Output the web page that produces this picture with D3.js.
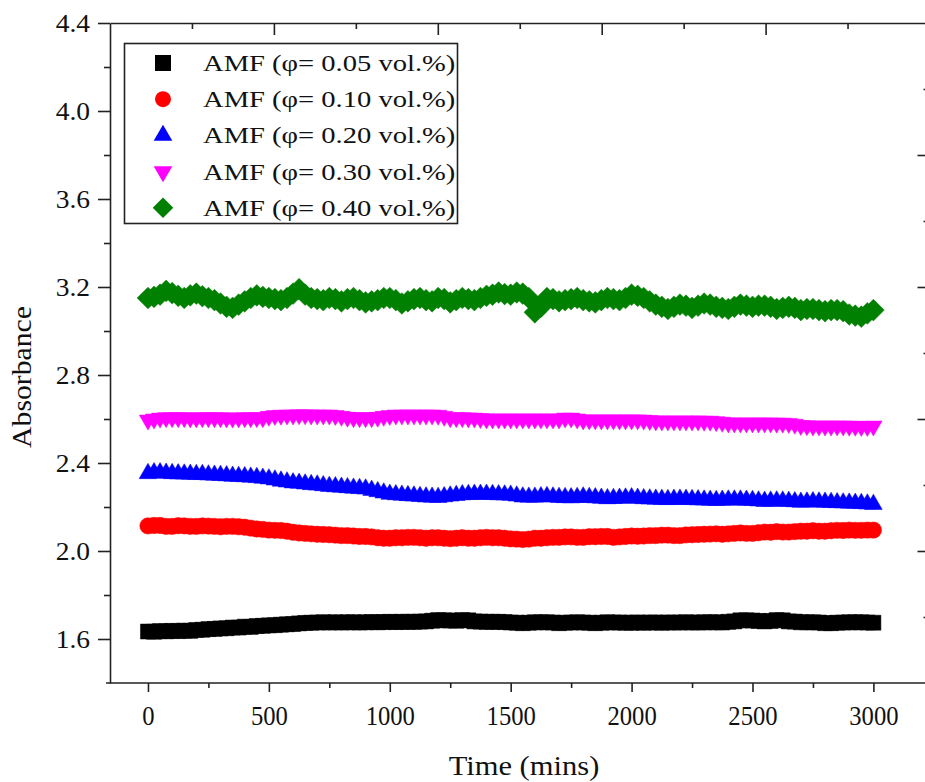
<!DOCTYPE html>
<html lang="en">
<head>
<meta charset="UTF-8">
<title>absorbance-vs-time</title>
<script src="https://cdn.jsdelivr.net/npm/d3@7"></script>
<style>
    body {
        margin: 0;
        background: #fff;
    }
    svg text {
        font-family: "Liberation Serif", "Times New Roman", serif;
        fill: #111;
    }
</style>
</head>
<body>
<script>

// sampling times (mins)
let times = [0, 25, 50, 75, 100, 125, 150, 175, 200, 225,
    250, 275, 300, 325, 350, 375, 400, 425, 450, 475,
    500, 525, 550, 575, 600, 625, 650, 675, 700, 725,
    750, 775, 800, 825, 850, 875, 900, 925, 950, 975,
    1000, 1025, 1050, 1075, 1100, 1125, 1150, 1175, 1200, 1225,
    1250, 1275, 1300, 1325, 1350, 1375, 1400, 1425, 1450, 1475,
    1500, 1525, 1550, 1575, 1600, 1625, 1650, 1675, 1700, 1725,
    1750, 1775, 1800, 1825, 1850, 1875, 1900, 1925, 1950, 1975,
    2000, 2025, 2050, 2075, 2100, 2125, 2150, 2175, 2200, 2225,
    2250, 2275, 2300, 2325, 2350, 2375, 2400, 2425, 2450, 2475,
    2500, 2525, 2550, 2575, 2600, 2625, 2650, 2675, 2700, 2725,
    2750, 2775, 2800, 2825, 2850, 2875, 2900, 2925, 2950, 2975, 3000];

// absorbance, one array per volume fraction
let abs005 = [1.634, 1.633, 1.636, 1.635, 1.637, 1.636, 1.638, 1.637, 1.641, 1.642,
    1.645, 1.646, 1.648, 1.649, 1.652, 1.652, 1.656, 1.655, 1.659, 1.660,
    1.662, 1.663, 1.665, 1.667, 1.668, 1.671, 1.673, 1.674, 1.675, 1.676,
    1.675, 1.676, 1.675, 1.676, 1.676, 1.675, 1.676, 1.677, 1.676, 1.677,
    1.678, 1.677, 1.678, 1.678, 1.678, 1.679, 1.680, 1.683, 1.686, 1.685,
    1.684, 1.683, 1.686, 1.685, 1.680, 1.679, 1.678, 1.678, 1.678, 1.677,
    1.675, 1.674, 1.672, 1.674, 1.676, 1.676, 1.676, 1.675, 1.672, 1.674,
    1.675, 1.676, 1.675, 1.674, 1.672, 1.674, 1.676, 1.675, 1.675, 1.674,
    1.674, 1.675, 1.674, 1.675, 1.675, 1.674, 1.675, 1.675, 1.675, 1.676,
    1.675, 1.675, 1.676, 1.676, 1.676, 1.675, 1.678, 1.680, 1.685, 1.685,
    1.684, 1.682, 1.680, 1.682, 1.686, 1.685, 1.680, 1.679, 1.676, 1.676,
    1.676, 1.675, 1.672, 1.672, 1.674, 1.675, 1.676, 1.676, 1.676, 1.675, 1.674];

let abs010 = [2.114, 2.116, 2.116, 2.112, 2.112, 2.115, 2.114, 2.112, 2.112, 2.114,
    2.113, 2.112, 2.110, 2.112, 2.112, 2.110, 2.108, 2.104, 2.100, 2.098,
    2.095, 2.094, 2.093, 2.090, 2.085, 2.082, 2.080, 2.078, 2.076, 2.075,
    2.074, 2.072, 2.070, 2.070, 2.068, 2.066, 2.066, 2.064, 2.060, 2.058,
    2.058, 2.060, 2.060, 2.062, 2.062, 2.060, 2.058, 2.060, 2.060, 2.058,
    2.056, 2.058, 2.060, 2.058, 2.058, 2.060, 2.062, 2.060, 2.060, 2.058,
    2.055, 2.054, 2.052, 2.054, 2.058, 2.058, 2.060, 2.062, 2.062, 2.064,
    2.064, 2.062, 2.062, 2.065, 2.065, 2.066, 2.066, 2.062, 2.064, 2.066,
    2.068, 2.067, 2.068, 2.070, 2.070, 2.072, 2.072, 2.070, 2.070, 2.073,
    2.074, 2.075, 2.076, 2.077, 2.078, 2.076, 2.078, 2.080, 2.082, 2.080,
    2.080, 2.083, 2.086, 2.085, 2.088, 2.086, 2.086, 2.088, 2.090, 2.090,
    2.092, 2.090, 2.090, 2.092, 2.094, 2.093, 2.095, 2.094, 2.094, 2.095, 2.095];

let abs020 = [2.352, 2.356, 2.356, 2.354, 2.352, 2.351, 2.350, 2.349, 2.348, 2.348,
    2.346, 2.345, 2.344, 2.342, 2.340, 2.339, 2.338, 2.336, 2.334, 2.331,
    2.328, 2.323, 2.318, 2.314, 2.310, 2.308, 2.305, 2.302, 2.300, 2.297,
    2.294, 2.292, 2.290, 2.288, 2.286, 2.284, 2.282, 2.276, 2.270, 2.264,
    2.258, 2.256, 2.254, 2.252, 2.250, 2.248, 2.246, 2.245, 2.244, 2.247,
    2.250, 2.253, 2.256, 2.257, 2.258, 2.258, 2.258, 2.257, 2.256, 2.255,
    2.254, 2.250, 2.246, 2.245, 2.245, 2.247, 2.248, 2.246, 2.244, 2.243,
    2.242, 2.244, 2.246, 2.244, 2.242, 2.240, 2.238, 2.239, 2.240, 2.241,
    2.242, 2.240, 2.238, 2.237, 2.236, 2.235, 2.234, 2.235, 2.236, 2.235,
    2.234, 2.233, 2.232, 2.231, 2.230, 2.231, 2.232, 2.232, 2.232, 2.231,
    2.230, 2.228, 2.226, 2.227, 2.228, 2.227, 2.226, 2.224, 2.222, 2.223,
    2.224, 2.223, 2.222, 2.221, 2.220, 2.219, 2.218, 2.217, 2.216, 2.214, 2.212];

let abs030 = [2.595, 2.600, 2.604, 2.606, 2.606, 2.606, 2.606, 2.605, 2.605, 2.606,
    2.606, 2.606, 2.606, 2.605, 2.604, 2.605, 2.606, 2.606, 2.606, 2.606,
    2.612, 2.616, 2.617, 2.618, 2.618, 2.619, 2.619, 2.618, 2.618, 2.618,
    2.618, 2.616, 2.612, 2.608, 2.606, 2.606, 2.606, 2.606, 2.608, 2.612,
    2.616, 2.618, 2.618, 2.618, 2.618, 2.618, 2.618, 2.618, 2.617, 2.612,
    2.606, 2.606, 2.606, 2.605, 2.604, 2.602, 2.600, 2.600, 2.600, 2.600,
    2.600, 2.600, 2.600, 2.600, 2.600, 2.600, 2.600, 2.600, 2.600, 2.604,
    2.604, 2.600, 2.596, 2.596, 2.596, 2.596, 2.596, 2.596, 2.596, 2.596,
    2.596, 2.596, 2.595, 2.593, 2.591, 2.591, 2.591, 2.591, 2.591, 2.591,
    2.591, 2.591, 2.590, 2.590, 2.588, 2.585, 2.582, 2.582, 2.582, 2.582,
    2.582, 2.582, 2.582, 2.582, 2.581, 2.581, 2.580, 2.576, 2.570, 2.569,
    2.568, 2.568, 2.568, 2.568, 2.568, 2.568, 2.567, 2.567, 2.566, 2.566, 2.568];

let abs040 = [3.150, 3.155, 3.165, 3.182, 3.172, 3.160, 3.150, 3.162, 3.170, 3.158,
    3.150, 3.140, 3.125, 3.110, 3.105, 3.120, 3.135, 3.150, 3.162, 3.155,
    3.150, 3.145, 3.140, 3.150, 3.170, 3.190, 3.165, 3.150, 3.145, 3.140,
    3.150, 3.145, 3.135, 3.145, 3.150, 3.140, 3.130, 3.135, 3.140, 3.150,
    3.150, 3.140, 3.125, 3.135, 3.145, 3.150, 3.140, 3.135, 3.150, 3.145,
    3.130, 3.140, 3.150, 3.145, 3.140, 3.150, 3.160, 3.165, 3.175, 3.168,
    3.165, 3.175, 3.170, 3.150, 3.085, 3.110, 3.150, 3.145, 3.135, 3.140,
    3.145, 3.150, 3.140, 3.135, 3.130, 3.140, 3.150, 3.145, 3.140, 3.150,
    3.165, 3.160, 3.150, 3.135, 3.120, 3.110, 3.100, 3.110, 3.120, 3.115,
    3.105, 3.115, 3.125, 3.120, 3.110, 3.105, 3.100, 3.110, 3.120, 3.115,
    3.110, 3.115, 3.115, 3.110, 3.100, 3.105, 3.110, 3.105, 3.095, 3.100,
    3.100, 3.095, 3.090, 3.095, 3.095, 3.090, 3.075, 3.070, 3.065, 3.080, 3.095];

let seriesNames = ["AMF (\u03c6= 0.05 vol.%)", "AMF (\u03c6= 0.10 vol.%)", "AMF (\u03c6= 0.20 vol.%)",
    "AMF (\u03c6= 0.30 vol.%)", "AMF (\u03c6= 0.40 vol.%)"];
let seriesValues = [abs005, abs010, abs020, abs030, abs040];

let xMajor = [0, 500, 1000, 1500, 2000, 2500, 3000];
let xMinor = [250, 750, 1250, 1750, 2250, 2750];
let yMajor = [1.6, 2.0, 2.4, 2.8, 3.2, 3.6, 4.0, 4.4];
let yMinor = [1.8, 2.2, 2.6, 3.0, 3.4, 3.8, 4.2];

// marker styles
let colors = ["#000000", "#ff0000", "#0000ff", "#ff00ff", "#008000"];
let shapes = [d3.symbolSquare, d3.symbolCircle, d3.symbolTriangle, d3.symbolTriangle, d3.symbolSquare];
let rotations = [0, 0, 0, 180, 45];
let markerSizes = [225, 210, 135, 130, 235];
let legendSizes = [256, 200, 150, 150, 210];

let width = 925;
let height = 782;
let plotLeft = 110, plotRight = 929.5, plotTop = 23, plotBottom = 683;
let axisColor = "#222";

let svg = d3.select("body").append("svg")
    .attr("width", width)
    .attr("height", height);

let x = d3.scaleLinear().domain([-157, 3232]).range([plotLeft, plotRight]);
let y = d3.scaleLinear().domain([1.4, 4.4]).range([plotBottom, plotTop]);
// top and right frame carry plain divisions
let frameX = d3.scaleLinear().domain([0, 5]).range([plotLeft, plotRight]);
let frameY = d3.scaleLinear().domain([0, 5]).range([plotBottom, plotTop]);

// stretch a text selection along its reading direction
function stretch(sel, k) {
    sel.each(function () {
        let len = this.getComputedTextLength();
        d3.select(this)
            .attr("textLength", len * k)
            .attr("lengthAdjust", "spacingAndGlyphs");
    });
}

function styleAxis(g, fontSize) {
    g.attr("font-size", fontSize).attr("font-family", null);
    g.selectAll("path, line").attr("stroke", axisColor).attr("stroke-width", 1.6);
}

// frame top / right
let gTop = svg.append("g").attr("transform", "translate(0," + plotTop + ")")
    .call(d3.axisBottom(frameX).tickValues([1, 2, 3, 4]).tickSize(12).tickSizeOuter(0).tickFormat(""));
let gTopMinor = svg.append("g").attr("transform", "translate(0," + plotTop + ")")
    .call(d3.axisBottom(frameX).tickValues([0.5, 1.5, 2.5, 3.5, 4.5]).tickSize(6).tickSizeOuter(0).tickFormat(""));
gTopMinor.select(".domain").remove();
let gRight = svg.append("g").attr("transform", "translate(" + plotRight + ",0)")
    .call(d3.axisLeft(frameY).tickValues([1, 2, 3, 4]).tickSize(12).tickSizeOuter(0).tickFormat(""));
let gRightMinor = svg.append("g").attr("transform", "translate(" + plotRight + ",0)")
    .call(d3.axisLeft(frameY).tickValues([0.5, 1.5, 2.5, 3.5, 4.5]).tickSize(6).tickSizeOuter(0).tickFormat(""));
gRightMinor.select(".domain").remove();
[gTop, gTopMinor, gRight, gRightMinor].forEach(g => styleAxis(g, 10));

// left axis
let gLeft = svg.append("g").attr("transform", "translate(" + plotLeft + ",0)")
    .call(d3.axisLeft(y).tickValues(yMajor).tickSize(12).tickSizeOuter(0).tickPadding(8).tickFormat(d3.format(".1f")));
let gLeftMinor = svg.append("g").attr("transform", "translate(" + plotLeft + ",0)")
    .call(d3.axisLeft(y).tickValues(yMinor).tickSize(6).tickSizeOuter(0).tickFormat(""));
gLeftMinor.select(".domain").remove();
styleAxis(gLeft, 25);
styleAxis(gLeftMinor, 10);
stretch(gLeft.selectAll("text"), 1.1);

// bottom axis
let gBottom = svg.append("g").attr("transform", "translate(0," + plotBottom + ")")
    .call(d3.axisBottom(x).tickValues(xMajor).tickSize(9).tickSizeOuter(0).tickPadding(13).tickFormat(d3.format("d")));
let gBottomMinor = svg.append("g").attr("transform", "translate(0," + plotBottom + ")")
    .call(d3.axisBottom(x).tickValues(xMinor).tickSize(5).tickSizeOuter(0).tickFormat(""));
gBottomMinor.select(".domain").remove();
styleAxis(gBottom, 28);
styleAxis(gBottomMinor, 10);
gBottom.select(".domain").attr("d", "M" + (plotLeft - 4) + ",0H" + plotRight);
stretch(gBottom.selectAll("text"), 0.88);

// axis titles
let xTitle = svg.append("text")
    .attr("x", 524)
    .attr("y", 775)
    .attr("text-anchor", "middle")
    .attr("font-size", 28)
    .text("Time (mins)");
stretch(xTitle, 1.09);

let yTitle = svg.append("text")
    .attr("transform", "translate(31,377) rotate(-90)")
    .attr("text-anchor", "middle")
    .attr("font-size", 27)
    .text("Absorbance");
stretch(yTitle, 1.1);

// series
let symbol = d3.symbol();
seriesValues.forEach(function (vals, i) {
    svg.append("g")
        .selectAll("path")
        .data(times.map((t, j) => [t, vals[j]]))
        .enter()
        .append("path")
        .attr("transform", d => "translate(" + x(d[0]) + "," + y(d[1]) + ") rotate(" + rotations[i] + ")")
        .attr("d", symbol.type(shapes[i]).size(markerSizes[i])())
        .attr("fill", colors[i])
        .attr("stroke", colors[i])
        .attr("stroke-width", 0.5);
});

// legend
let legend = svg.append("g");
legend.append("rect")
    .attr("x", 124.5)
    .attr("y", 43.5)
    .attr("width", 333)
    .attr("height", 180)
    .attr("fill", "#fff")
    .attr("stroke", axisColor)
    .attr("stroke-width", 1.6);

seriesNames.forEach(function (name, i) {
    let cy = 63 + i * 36.2;
    legend.append("path")
        .attr("transform", "translate(163," + cy + ") rotate(" + rotations[i] + ")")
        .attr("d", symbol.type(shapes[i]).size(legendSizes[i])())
        .attr("fill", colors[i]);
    let t = legend.append("text")
        .attr("x", 203)
        .attr("y", cy + 8)
        .attr("font-size", 24)
        .text(name);
    stretch(t, 1.19);
});

</script>
</body>
</html>
